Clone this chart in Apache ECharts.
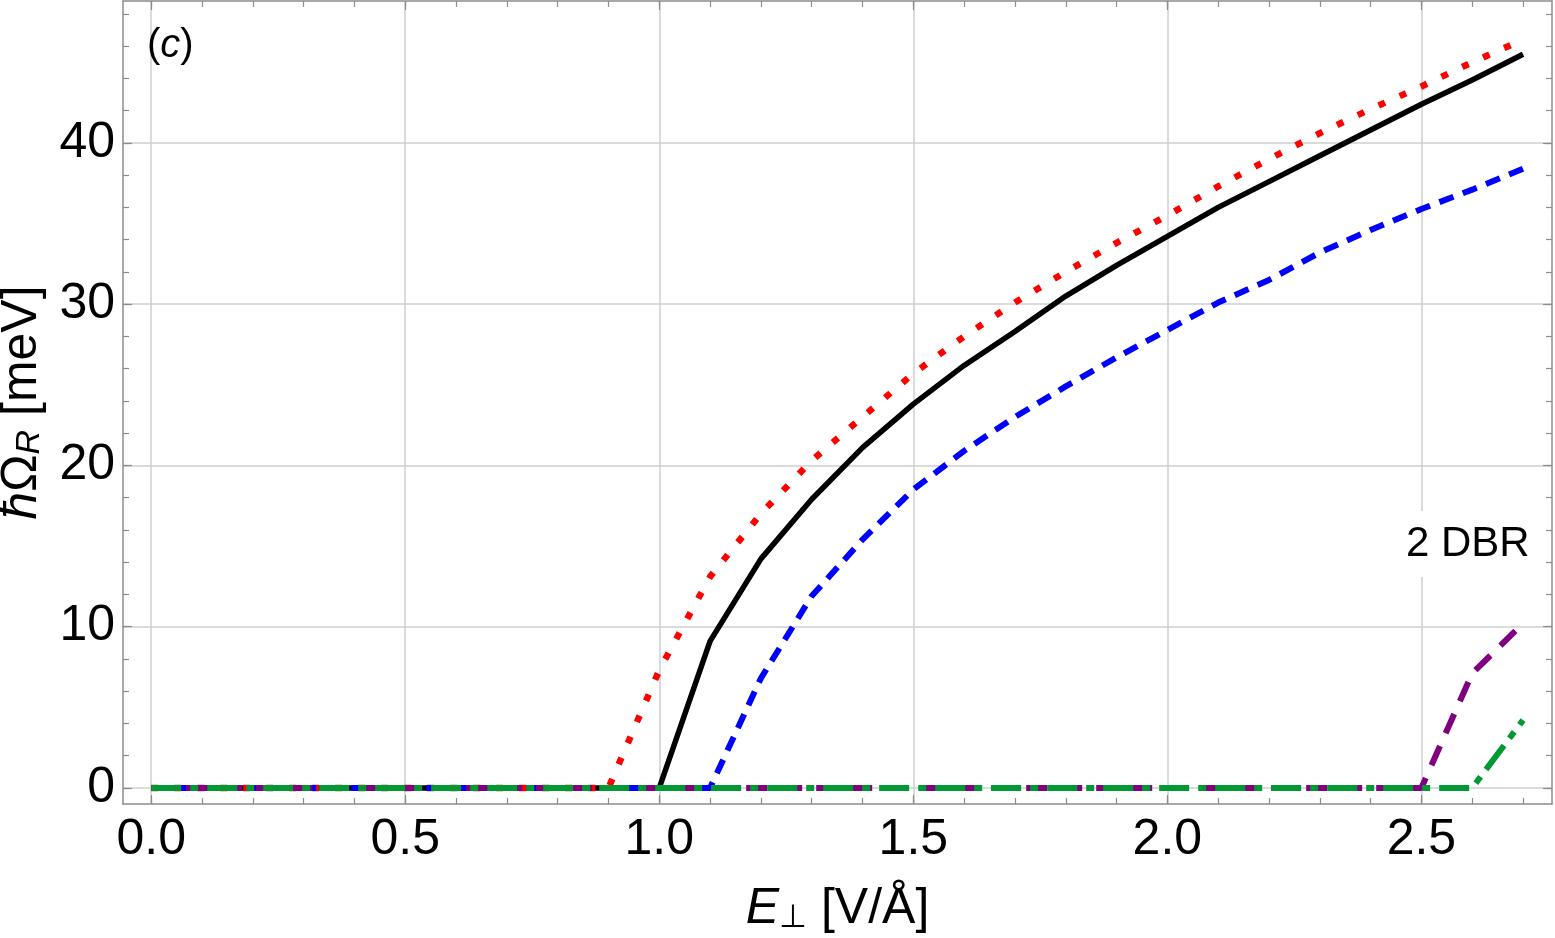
<!DOCTYPE html>
<html>
<head>
<meta charset="utf-8">
<title>Rabi splitting vs field</title>
<script src="https://cdn.jsdelivr.net/npm/echarts@6.0.0/dist/echarts.min.js"></script>
<style>
  html, body { margin: 0; padding: 0; background: #fff; }
  #main { width: 1555px; height: 938px; }
</style>
</head>
<body>
<div id="main"></div>
<script>
// field values E_perp [V/Å]
var fieldE = [0.0, 0.1, 0.2, 0.3, 0.4, 0.5, 0.6, 0.7, 0.8, 0.9, 1.0, 1.1, 1.2, 1.3,
              1.4, 1.5, 1.6, 1.7, 1.8, 1.9, 2.0, 2.1, 2.2, 2.3, 2.4, 2.5, 2.6, 2.7];

// hbar*Omega_R [meV]
var solidBlack = [0, 0, 0, 0, 0, 0, 0, 0, 0, 0, 0, 9.1, 14.2, 17.9,
                  21.1, 23.8, 26.2, 28.3, 30.5, 32.4, 34.2, 36.0, 37.6, 39.2, 40.8, 42.4, 43.9, 45.5];
var dottedRed = [0, 0, 0, 0, 0, 0, 0, 0, 0, 0, 7.3, 13.1, 17.0, 20.3,
                 23.0, 25.7, 28.0, 30.1, 32.0, 33.8, 35.5, 37.3, 39.0, 40.6, 42.1, 43.5, 45.0, 46.4];
var dashedBlue = [0, 0, 0, 0, 0, 0, 0, 0, 0, 0, 0, 0, 6.8, 11.9,
                  15.4, 18.5, 20.9, 23.0, 24.9, 26.7, 28.4, 30.1, 31.5, 33.2, 34.6, 35.9, 37.1, 38.4];
var dashedPurple = [0, 0, 0, 0, 0, 0, 0, 0, 0, 0, 0, 0, 0, 0,
                    0, 0, 0, 0, 0, 0, 0, 0, 0, 0, 0, 0, 7.1, 10.2];
var dotDashGreen = [0, 0, 0, 0, 0, 0, 0, 0, 0, 0, 0, 0, 0, 0,
                    0, 0, 0, 0, 0, 0, 0, 0, 0, 0, 0, 0, 0, 4.2];

// ticks
var xMajor = [0, 0.5, 1.0, 1.5, 2.0, 2.5];
var xMinor = [0, 0.1, 0.2, 0.3, 0.4, 0.5, 0.6, 0.7, 0.8, 0.9, 1.0, 1.1, 1.2, 1.3, 1.4,
              1.5, 1.6, 1.7, 1.8, 1.9, 2.0, 2.1, 2.2, 2.3, 2.4, 2.5, 2.6, 2.7];
var yMajor = [0, 10, 20, 30, 40];
var yMinor = [0, 2, 4, 6, 8, 10, 12, 14, 16, 18, 20, 22, 24, 26, 28, 30, 32, 34, 36, 38, 40, 42, 44, 46, 48];

var X_MIN = -0.0555, X_MAX = 2.757;
var Y_MIN = -1.0, Y_MAX = 48.8;

function pairs(ys) {
    return fieldE.map(function (x, i) { return [x, ys[i]]; });
}

var frameColor = '#8c8c8c';
var font = '"Liberation Sans", Arial, sans-serif';

function frameX(pos, ticks, len, main) {
    return {
        type: 'value', position: pos, min: X_MIN, max: X_MAX,
        axisLine: { show: main, onZero: false, lineStyle: { color: frameColor, width: 1.5 } },
        axisTick: { show: true, inside: true, length: len, customValues: ticks,
                    lineStyle: { color: frameColor, width: 1.2 } },
        axisLabel: { show: false },
        splitLine: { show: false }
    };
}
function frameY(pos, ticks, len, main) {
    return {
        type: 'value', position: pos, min: Y_MIN, max: Y_MAX,
        axisLine: { show: main, onZero: false, lineStyle: { color: frameColor, width: 1.5 } },
        axisTick: { show: true, inside: true, length: len, customValues: ticks,
                    lineStyle: { color: frameColor, width: 1.2 } },
        axisLabel: { show: false },
        splitLine: { show: false }
    };
}

var myChart = echarts.init(document.getElementById('main'));
var option = {
    animation: false,
    backgroundColor: '#ffffff',
    grid: { left: 123, right: 3, top: 1, bottom: 134, containLabel: false, outerBoundsMode: 'none' },
    xAxis: [
        {
            type: 'value', position: 'bottom', min: X_MIN, max: X_MAX,
            name: '{i|E}{s|⊥} [V/Å]',
            nameLocation: 'middle', nameGap: 80,
            nameTextStyle: {
                color: '#000', fontFamily: font, fontSize: 50,
                rich: {
                    i: { fontStyle: 'italic', fontSize: 50, fontFamily: font, color: '#000' },
                    s: { fontSize: 32, fontFamily: font, color: '#000', verticalAlign: 'bottom', lineHeight: 30 }
                }
            },
            axisLine: { show: true, onZero: false, lineStyle: { color: frameColor, width: 1.5 } },
            axisTick: { show: true, inside: true, length: 9, customValues: xMajor,
                        lineStyle: { color: frameColor, width: 1.2 } },
            axisLabel: {
                customValues: xMajor, margin: 11, color: '#000', fontFamily: font, fontSize: 50,
                formatter: function (v) { return v.toFixed(1); }
            },
            splitLine: { show: true, lineStyle: { color: '#cfcfcf', width: 1.5 } }
        },
        frameX('bottom', xMinor, 6, false),
        frameX('top', xMajor, 9, true),
        frameX('top', xMinor, 6, false)
    ],
    yAxis: [
        {
            type: 'value', position: 'left', min: Y_MIN, max: Y_MAX,
            name: '{i|ħ}Ω{s|R} [meV]',
            nameLocation: 'middle', nameGap: 76,
            nameTextStyle: {
                color: '#000', fontFamily: font, fontSize: 50,
                rich: {
                    i: { fontStyle: 'italic', fontSize: 50, fontFamily: font, color: '#000' },
                    s: { fontStyle: 'italic', fontSize: 34, fontFamily: font, color: '#000', verticalAlign: 'bottom', lineHeight: 30 }
                }
            },
            axisLine: { show: true, onZero: false, lineStyle: { color: frameColor, width: 1.5 } },
            axisTick: { show: true, inside: true, length: 9, customValues: yMajor,
                        lineStyle: { color: frameColor, width: 1.2 } },
            axisLabel: {
                customValues: yMajor, margin: 8, color: '#000', fontFamily: font, fontSize: 50
            },
            splitLine: { show: true, lineStyle: { color: '#cfcfcf', width: 1.5 } }
        },
        frameY('left', yMinor, 6, false),
        frameY('right', yMajor, 9, true),
        frameY('right', yMinor, 6, false)
    ],
    graphic: [
        {
            type: 'text', left: 147, top: 26, z: 10,
            style: {
                text: '({c|c})', font: '40px ' + font, fill: '#000',
                rich: { c: { fontStyle: 'italic', fontSize: 40, fontFamily: font, fill: '#000' } }
            }
        },
        {
            type: 'text', left: 1398, top: 511, z: 10,
            style: {
                text: '2 DBR', font: '42px ' + font, fill: '#000',
                backgroundColor: '#fff', padding: [12, 8]
            }
        }
    ],
    series: [
        {
            name: 'black', type: 'line', data: pairs(solidBlack), showSymbol: false,
            lineStyle: { color: '#000000', width: 5.5 }
        },
        {
            name: 'red', type: 'line', data: pairs(dottedRed), showSymbol: false,
            lineStyle: { color: '#ff0000', width: 6.5, type: [7, 16] }
        },
        {
            name: 'blue', type: 'line', data: pairs(dashedBlue), showSymbol: false,
            lineStyle: { color: '#0000ff', width: 6, type: [15, 10] }
        },
        {
            name: 'purple', type: 'line', data: pairs(dashedPurple), showSymbol: false,
            lineStyle: { color: '#800080', width: 6, type: [21, 14] }
        },
        {
            name: 'green', type: 'line', data: pairs(dotDashGreen), showSymbol: false,
            lineStyle: { color: '#009933', width: 6, type: [30, 9, 8, 9] }
        }
    ]
};

myChart.setOption(option);
window.addEventListener("resize", function () {
    myChart.resize();
});
</script>
</body>
</html>
